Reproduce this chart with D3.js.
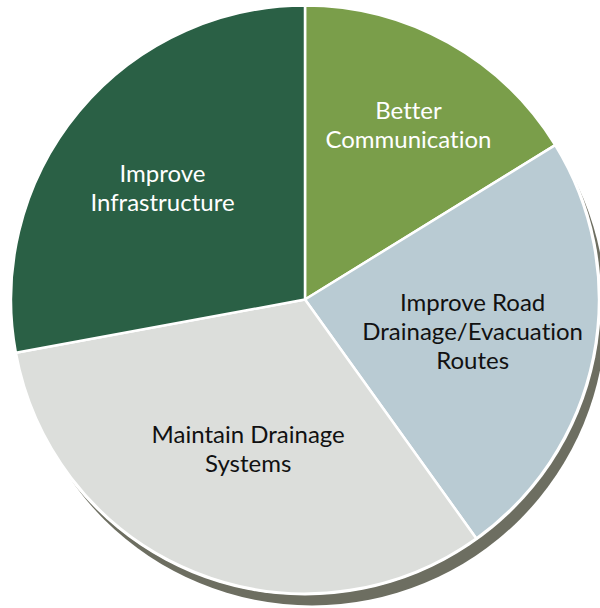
<!DOCTYPE html>
<html>
<head>
<meta charset="utf-8">
<script src="https://cdn.jsdelivr.net/npm/d3@7"></script>
<style>
  body { margin: 0; background: #fff; }
  svg { display: block; }
  .lbl { font-family: Lato, "Open Sans", sans-serif; font-size: 24px; font-variant-ligatures: none; }
</style>
</head>
<body>
<svg id="mainChart" width="600" height="608"></svg>
<script>
// slices, clockwise from 12 o'clock
var categories = ["Better Communication", "Improve Road Drainage/Evacuation Routes", "Maintain Drainage Systems", "Improve Infrastructure"];
var values = [16.2, 23.9, 32.0, 27.9];
var labelLines = [["Better", "Communication"], ["Improve Road", "Drainage/Evacuation", "Routes"], ["Maintain Drainage", "Systems"], ["Improve", "Infrastructure"]];

var colors = ["#7a9e4a", "#b9cbd3", "#dcdedb", "#2a6045"];
var textColors = ["#ffffff", "#111111", "#111111", "#ffffff"];
var labelRadius = [200, 171, 168, 162];
var labelNudge = [[6, 1], [0, -1], [6, -6], [-18, -7]];

var svg = d3.select("#mainChart"),
  width = +svg.attr("width"),
  height = +svg.attr("height");

var cx = 305, cy = 299.5, radius = 294;

var data = categories.map(function(c, i) {
  return { name: c, value: values[i], i: i };
});

var pie = d3.pie()
  .value(function(d) { return d.value; })
  .sort(null);

var arcs = pie(data);

var arc = d3.arc().innerRadius(0).outerRadius(radius);

// drop shadow disc
svg.append("circle")
  .attr("cx", cx + 7)
  .attr("cy", cy + 12)
  .attr("r", radius)
  .attr("fill", "#6d6e61");

// white ring between pie and shadow
svg.append("circle")
  .attr("cx", cx)
  .attr("cy", cy)
  .attr("r", radius + 2)
  .attr("fill", "#fff");

var g = svg.append("g")
  .attr("transform", "translate(" + cx + "," + cy + ")");

g.selectAll("path")
  .data(arcs)
  .enter()
  .append("path")
  .attr("d", arc)
  .attr("fill", function(d) { return colors[d.data.i]; })
  .attr("stroke", "#fff")
  .attr("stroke-width", 2.5)
  .attr("stroke-linejoin", "round");

var lineH = 29;

g.selectAll("text")
  .data(arcs)
  .enter()
  .append("text")
  .attr("class", "lbl")
  .attr("text-anchor", "middle")
  .attr("fill", function(d) { return textColors[d.data.i]; })
  .each(function(d) {
    var r = labelRadius[d.data.i];
    var c = d3.arc().innerRadius(r).outerRadius(r).centroid(d);
    var nx = c[0] + labelNudge[d.data.i][0];
    var lines = labelLines[d.data.i];
    var y0 = c[1] - (lines.length - 1) * lineH / 2 + 8 + labelNudge[d.data.i][1];
    var t = d3.select(this);
    lines.forEach(function(line, k) {
      t.append("tspan")
        .attr("x", nx)
        .attr("y", y0 + k * lineH)
        .text(line);
    });
  });
</script>
</body>
</html>
